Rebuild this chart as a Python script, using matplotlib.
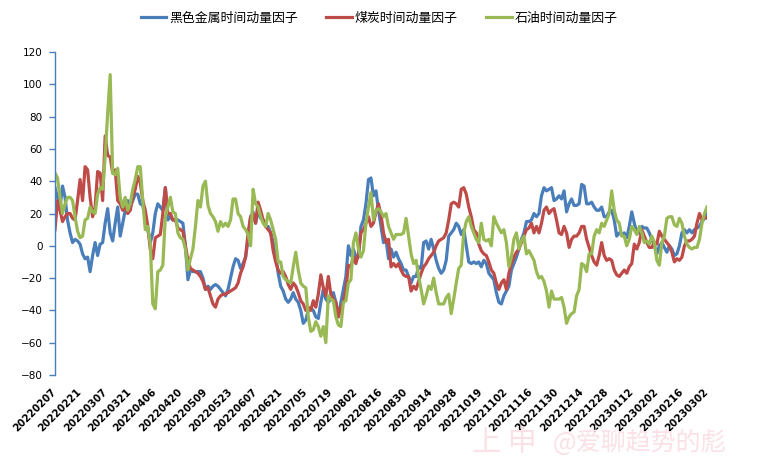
import matplotlib.pyplot as plt

plt.rcParams['font.family'] = ['Noto Sans CJK SC', 'DejaVu Sans']

# every 10th trading day is labelled on the category axis
tick_labels = ['20220207', '20220221', '20220307', '20220321', '20220406', '20220420',
               '20220509', '20220523', '20220607', '20220621', '20220705', '20220719',
               '20220802', '20220816', '20220830', '20220914', '20220928', '20221019',
               '20221102', '20221116', '20221130', '20221214', '20221228', '20230112',
               '20230202', '20230216', '20230302']

# 黑色金属时间动量因子
ferrous = [
    36, 30, 24, 37, 30, 16, 8, 2, 4, 3,
    1, -5, -8, -7, -16, -6, 2, -6, 1, 2,
    14, 23, 8, 3, 14, 24, 6, 14, 22, 28,
    24, 28, 32, 32, 26, 25, 18, 10, 2, 8,
    20, 26, 24, 22, 36, 16, 18, 16, 16, 16,
    15, 14, 0, -21, -15, -16, -16, -16, -16, -20,
    -27, -25, -27, -25, -24, -25, -27, -29, -31, -27,
    -20, -13, -8, -9, -14, -11, -7, 4, 18, 21,
    14, 22, 17, 16, 12, 12, 8, 2, -6, -17,
    -25, -28, -33, -35, -33, -29, -33, -35, -40, -48,
    -46, -40, -39, -40, -44, -45, -35, -27, -33, -35,
    -33, -29, -35, -44, -35, -27, -19, 0, -6, -2,
    -7, -7, 12, 16, 26, 41, 42, 31, 34, 22,
    12, 2, 4, -8, -2, -7, -4, -8, -11, -15,
    -15, -19, -23, -19, -19, -13, -14, 2, 3, -2,
    4, -2, -9, -14, -17, -15, -9, 6, 8, 10,
    14, 12, 7, 10, 0, -10, -11, -10, -11, -10,
    -13, -9, -11, -17, -19, -21, -29, -35, -36, -31,
    -28, -25, -15, -11, -7, -2, 4, 8, 15, 15,
    16, 20, 18, 20, 31, 36, 34, 35, 36, 28,
    29, 31, 29, 34, 21, 26, 29, 25, 25, 26,
    38, 37, 26, 26, 27, 24, 22, 22, 24, 18,
    18, 21, 22, 16, 6, 8, 7, 8, 5, 12,
    21, 14, 8, 8, 12, 11, 11, 8, 4, 0,
    -5, 0, 2, -1, -4, 0, -2, -6, -5, 0,
    8, 10, 8, 10, 8, 10, 11, 12, 15, 17,
    20,
]

# 煤炭时间动量因子
coal = [
    10, 28, 22, 15, 18, 20, 20, 17, 16, 28,
    41, 28, 49, 47, 30, 18, 24, 46, 45, 28,
    68, 56, 55, 45, 47, 28, 26, 22, 24, 20,
    22, 30, 35, 43, 39, 28, 22, 12, -2, -8,
    5, 6, 7, 20, 36, 20, 20, 16, 16, 11,
    10, 9, 0, -9, -14, -15, -16, -17, -19, -22,
    -27, -26, -31, -36, -38, -33, -31, -30, -30, -29,
    -28, -27, -26, -23, -17, -13, -7, 8, 18, 20,
    14, 27, 22, 16, 12, 10, 8, -3, -10, -15,
    -17, -16, -19, -24, -27, -23, -25, -29, -34, -36,
    -40, -38, -40, -34, -38, -30, -18, -26, -31, -19,
    -30, -33, -35, -44, -38, -35, -27, -12, -13, -7,
    -11, -5, 8, 10, 14, 18, 12, 14, 21, 26,
    19, 8, 2, 4, -13, -11, -13, -11, -15, -18,
    -19, -19, -28, -25, -27, -22, -17, -13, -11, -8,
    -6, -4, 0, 3, 4, 5, 8, 16, 26, 27,
    26, 24, 35, 36, 32, 24, 18, 10, 8, 1,
    -3, -5, -6, -10, -15, -17, -23, -27, -23, -21,
    -27, -17, -11, -7, -4, -2, 2, 6, 10, 11,
    14, 8, 12, 8, 14, 22, 24, 20, 22, 23,
    16, 8, 7, 12, 8, -1, 4, 6, 6, 8,
    12, 12, 4, -1, -6, -10, -12, -6, 2, -6,
    -9, -8, -9, -15, -18, -19, -17, -15, -17, -13,
    -11, 1, -2, 2, 10, 6, 2, -1, -1, 2,
    1, 9, 6, 4, 2, 0, -4, -10, -8, -9,
    -7, 0, 3, 3, 4, 6, 14, 20, 16, 18,
    17,
]

# 石油时间动量因子
oil = [
    45, 42, 30, 20, 26, 30, 30, 28, 18, 9,
    5, 6, 16, 17, 24, 21, 20, 32, 36, 35,
    55, 82, 106, 45, 44, 48, 30, 24, 30, 22,
    26, 35, 41, 49, 49, 28, 10, 12, 1, -36,
    -39, -16, -15, -12, 18, 24, 30, 21, 20, 8,
    5, 4, -2, -15, -8, -2, 12, 28, 24, 37,
    40, 25, 20, 18, 15, 9, 15, 12, 14, 12,
    16, 29, 29, 20, 18, 12, 10, 7, 0, 35,
    26, 24, 18, 14, 12, 20, 16, 10, 4, -10,
    -10, -19, -21, -22, -23, -13, -4, -15, -23, -25,
    -26, -44, -53, -52, -47, -50, -56, -50, -60, -31,
    -33, -34, -44, -49, -50, -35, -34, -23, -21, 2,
    8, -2, -7, -3, 14, 24, 33, 16, 22, 23,
    21, 18, 20, 12, 8, 4, 7, 7, 7, 8,
    17, 6, -5, -11, -9, -19, -27, -36, -31, -25,
    -27, -20, -29, -36, -36, -36, -32, -30, -42, -33,
    -23, -14, -12, 8, 15, 18, 12, 8, 4, 2,
    14, 4, 3, 4, 0, 18, 14, 11, 8, 10,
    2, -13, -7, 4, 8, -2, 3, 6, -5, -3,
    -6, -9, -16, -20, -19, -22, -28, -38, -28, -33,
    -33, -33, -32, -38, -48, -44, -42, -41, -31, -27,
    -11, -12, -16, -5, -5, 6, 10, 8, 14, 12,
    16, 20, 34, 22, 16, 14, 6, 6, 0, 4,
    12, 10, 7, 12, 8, 2, 3, 1, 6, 2,
    -9, -12, 2, 6, 17, 18, 18, 13, 12, 17,
    14, 6, 1, -1, -2, -1, -1, 4, 14, 20,
    24,
]

fig = plt.figure(figsize=(7.58, 4.75), dpi=100)
ax = fig.add_axes([55 / 758, 100 / 475, 652 / 758, 323 / 475])

ax.plot(range(len(ferrous)), ferrous, color='#4a7ebb', lw=2.3, label='黑色金属时间动量因子')
ax.plot(range(len(coal)), coal, color='#be4b48', lw=2.3, label='煤炭时间动量因子')
ax.plot(range(len(oil)), oil, color='#98b954', lw=2.3, label='石油时间动量因子')

ax.set_ylim(-80, 120)
ax.set_yticks(range(-80, 121, 20))
ax.set_xlim(0, len(ferrous) - 1)
ax.set_xticks(range(0, len(ferrous), 10))
ax.set_xticklabels(tick_labels, rotation=45, ha='right', va='center',
                   rotation_mode='anchor', fontsize=7.3, fontweight='bold',
                   family='DejaVu Sans')
for lbl in ax.get_yticklabels():
    lbl.set_family('DejaVu Sans')

ax.tick_params(axis='x', length=0, pad=11)
ax.tick_params(axis='y', length=4, width=1, color='#4a7ebb', labelsize=7.5, pad=5)
for side in ['top', 'right', 'bottom']:
    ax.spines[side].set_visible(False)
ax.spines['left'].set_color('#4a7ebb')
ax.spines['left'].set_linewidth(1)

fig.legend(loc='center', bbox_to_anchor=(379 / 758, 1 - 18 / 475), ncol=3,
           frameon=False, fontsize=9.3, handlelength=2.0, handletextpad=0.2,
           columnspacing=2.2)

# watermark
fig.text(472 / 758, 1 - 443 / 475, '上 申', fontsize=21, color='#fbe1e6', va='center')
fig.text(553 / 758, 1 - 443 / 475, '@爱聊趋势的彪', fontsize=18, color='#fbe1e6', va='center')

fig.savefig('out.png', dpi=100)
